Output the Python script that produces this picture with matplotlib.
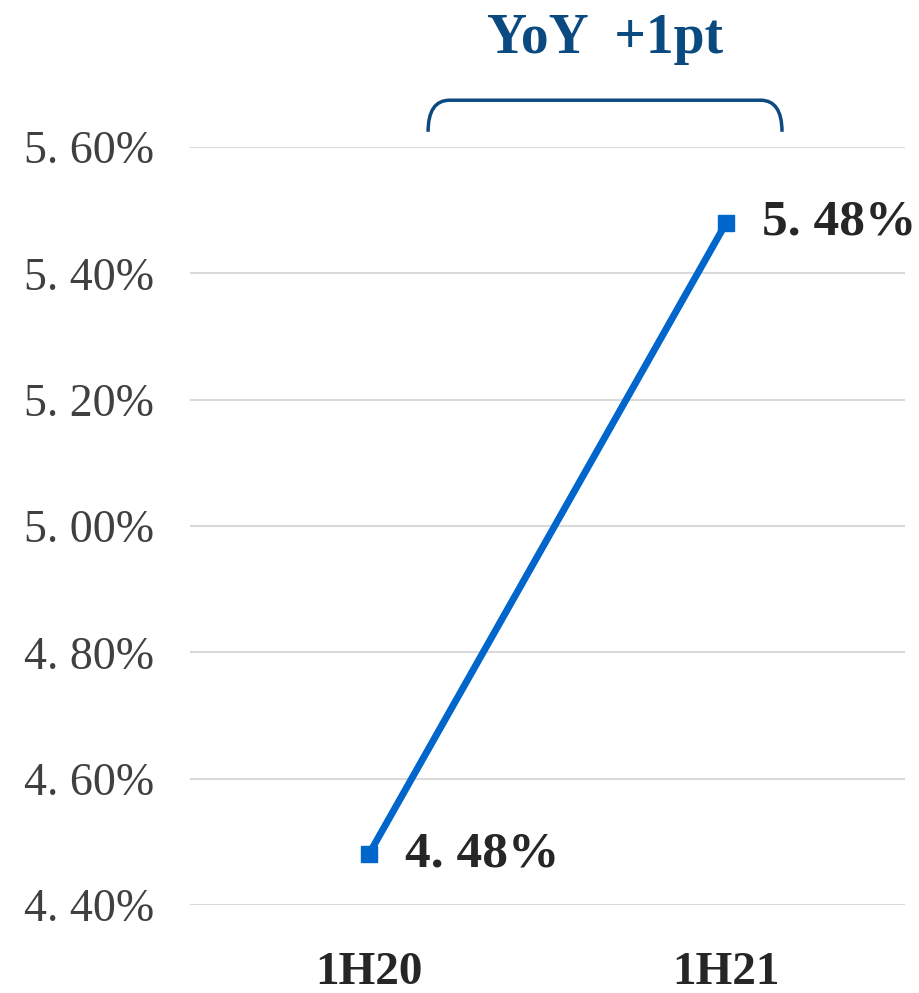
import matplotlib.pyplot as plt
from matplotlib.path import Path
from matplotlib.patches import PathPatch

periods = ['1H20', '1H21']
ratio = [4.48, 5.48]
y_ticks = [4.40, 4.60, 4.80, 5.00, 5.20, 5.40, 5.60]
callout = 'YoY  +1pt'

line_col = '#0066CC'
dark_blue = '#0B4A80'
font = 'Liberation Serif'

fig = plt.figure(figsize=(9.2, 9.93), dpi=100)
ax = fig.add_axes([0.2065, 0.0886, 0.7772, 0.7634])

x = list(range(len(periods)))
ax.plot(x, ratio, color=line_col, lw=5, marker='s', ms=11, zorder=3, clip_on=False)

# value labels to the right of each point
for xi, v in zip(x, ratio):
    ax.annotate(f'{v:.2f}%'.replace('.', '. '), (xi, v), xytext=(26, 0),
                textcoords='offset points', va='center', ha='left',
                fontsize=37, fontweight='bold', family=font, color='#262626')

ax.set_xlim(-0.5, 1.5)
ax.set_ylim(4.4, 5.6)
ax.set_yticks(y_ticks)
ax.set_yticklabels([f'{t:.2f}%'.replace('.', '. ') for t in y_ticks],
                   fontsize=33, family=font, color='#404040')
ax.set_xticks(x)
ax.set_xticklabels(periods, fontsize=34, fontweight='bold', family=font, color='#262626')
ax.tick_params(axis='both', length=0)
ax.tick_params(axis='y', pad=26)
ax.tick_params(axis='x', pad=34)
ax.grid(axis='y', color='#D9D9D9', lw=1.5)
ax.set_axisbelow(True)
for s in ax.spines.values():
    s.set_visible(False)

# bracket over the two points
x0, x1 = 0.166, 1.156
yb, yt = 5.624, 5.674
rx, ry = 0.06, 0.045
verts = [(x0, yb), (x0, yt), (x0 + rx, yt), (x1 - rx, yt), (x1, yt), (x1, yb)]
codes = [Path.MOVETO, Path.CURVE3, Path.CURVE3, Path.LINETO, Path.CURVE3, Path.CURVE3]
ax.add_patch(PathPatch(Path(verts, codes), fill=False, ec=dark_blue, lw=2.5, clip_on=False))
ax.text((x0 + x1) / 2, 5.771, callout, ha='center', va='center', fontsize=40,
        fontweight='bold', family=font, color=dark_blue)

fig.savefig('out.png', dpi=100)
